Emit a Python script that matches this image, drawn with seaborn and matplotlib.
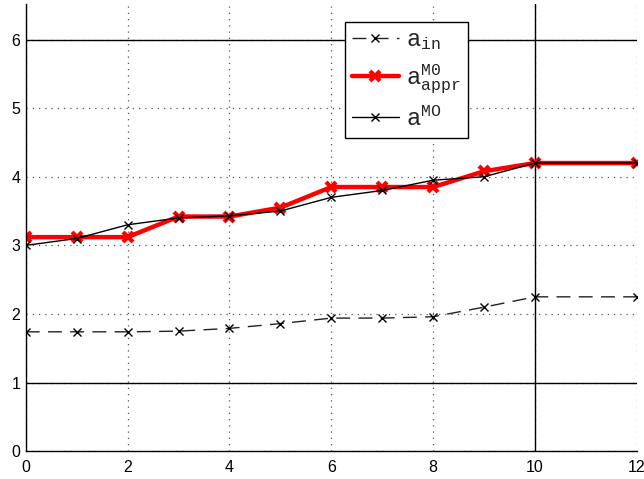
import matplotlib
matplotlib.use("Agg")
import matplotlib.pyplot as plt
import seaborn as sns

x_vals = [0, 1, 2, 3, 4, 5, 6, 7, 8, 9, 10, 12]
a_in = [1.74, 1.74, 1.74, 1.75, 1.79, 1.86, 1.94, 1.94, 1.96, 2.10, 2.25, 2.25]
a_appr = [3.12, 3.12, 3.12, 3.42, 3.42, 3.55, 3.85, 3.85, 3.85, 4.08, 4.20, 4.20]
a_mo = [3.00, 3.10, 3.30, 3.40, 3.43, 3.50, 3.70, 3.80, 3.95, 4.00, 4.20, 4.20]

x_ticks = [0, 2, 4, 6, 8, 10, 12]
y_ticks = [0, 1, 2, 3, 4, 5, 6]

sns.set_style("white")
plt.rcParams['font.family'] = ['Liberation Sans', 'DejaVu Sans']
plt.rcParams['mathtext.fontset'] = 'custom'
plt.rcParams['mathtext.rm'] = 'Liberation Mono'
plt.rcParams['mathtext.it'] = 'Liberation Mono'
plt.rcParams['mathtext.tt'] = 'Liberation Mono'

fig = plt.figure(figsize=(6.44, 4.79), dpi=100)
ax = fig.add_axes([0.040, 0.058, 0.949, 0.934])

sns.lineplot(x=x_vals, y=a_in, ax=ax, color='#222222', lw=1.0, marker='x',
             markersize=6, markeredgewidth=1.0, markeredgecolor='black',
             label=r'$\mathtt{a}_{\mathtt{in}}$')
sns.lineplot(x=x_vals, y=a_appr, ax=ax, color='red', lw=3.2, marker='x',
             markersize=7, markeredgewidth=3.0, markeredgecolor='red',
             label=r'$\mathtt{a}_{\mathtt{appr}}^{\mathtt{M0}}$')
sns.lineplot(x=x_vals, y=a_mo, ax=ax, color='black', lw=1.0, marker='x',
             markersize=6, markeredgewidth=1.0, markeredgecolor='black',
             label=r'$\mathtt{a}^{\mathtt{MO}}$')
ax.lines[0].set_dashes((10, 6))

# matlab style dotted grid, with a few solid reference lines
ax.grid(True, linestyle=(0, (1, 4)), color='#555555', linewidth=0.9)
ax.axhline(1, color='black', lw=1.0, zorder=1)
ax.axhline(6, color='black', lw=1.0, zorder=1)
ax.axvline(10, color='black', lw=1.0, zorder=1)

ax.set_xlim(0, 12)
ax.set_ylim(0, 6.52)
ax.set_xticks(x_ticks)
ax.set_yticks(y_ticks)
ax.tick_params(direction='in', length=3, width=0.8, labelsize=11.5,
               colors='black')
ax.tick_params(axis='x', pad=6)
ax.tick_params(axis='y', pad=4)
for s in ['top', 'right']:
    ax.spines[s].set_visible(False)
for s in ['left', 'bottom']:
    ax.spines[s].set_color('black')
    ax.spines[s].set_linewidth(1.0)

leg = ax.legend(loc='upper left', bbox_to_anchor=(0.522, 0.960),
                borderaxespad=0, fancybox=False, edgecolor='black',
                framealpha=1, fontsize=17, handlelength=2.0,
                labelspacing=0.45, borderpad=0.3, handletextpad=0.3)
leg.get_frame().set_linewidth(1.0)

fig.savefig('out.png', dpi=100)
